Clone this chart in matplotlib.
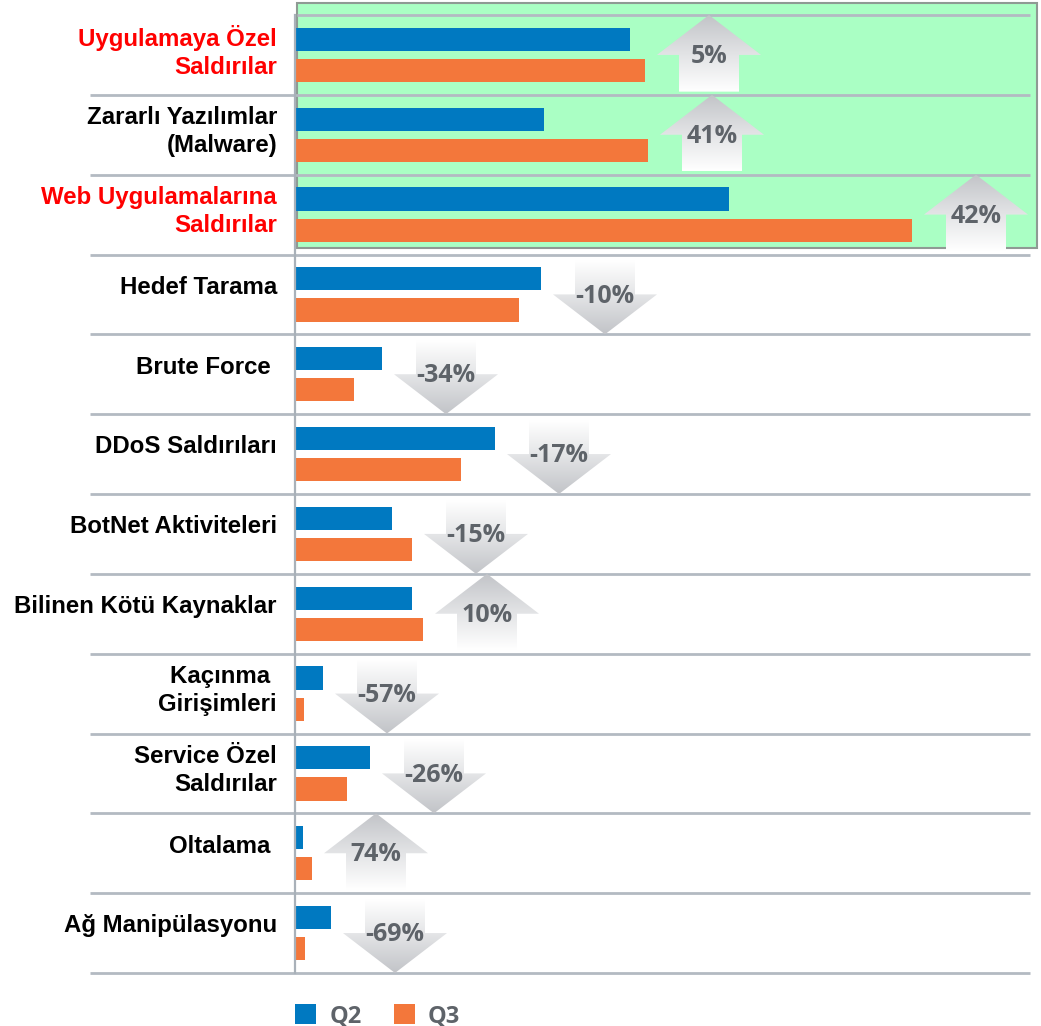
import numpy as np
import matplotlib
matplotlib.use("Agg")
import matplotlib.pyplot as plt
from matplotlib.patches import Polygon, Rectangle, Patch
from matplotlib.colors import LinearSegmentedColormap

# ---------------- data ----------------
categories = [
    "Uygulamaya Özel\nSaldırılar",
    "Zararlı Yazılımlar\n(Malware)",
    "Web Uygulamalarına\nSaldırılar",
    "Hedef Tarama",
    "Brute Force ",
    "DDoS Saldırıları",
    "BotNet Aktiviteleri",
    "Bilinen Kötü Kaynaklar",
    "Kaçınma \nGirişimleri",
    "Service Özel\nSaldırılar",
    "Oltalama ",
    "Ağ Manipülasyonu",
]
highlight = [True, False, True, False, False, False, False, False, False, False, False, False]
q2 = [335, 249, 434, 246, 87, 200, 97, 117, 28, 75, 8, 36]
q3 = [350, 353, 617, 224, 59, 166, 117, 128, 9, 52, 17, 10]
change_pct = [5, 41, 42, -10, -34, -17, -15, 10, -57, -26, 74, -69]
series_labels = ["Q2", "Q3"]

# ---------------- style ----------------
BLUE = "#0079c1"
ORANGE = "#f3773b"
GREEN = "#aaffc4"
LINE = "#b3bac2"
TXT_GRAY = "#5e6369"

W, H = 1041, 1026
fig = plt.figure(figsize=(W / 100, H / 100), dpi=100)
fig.patch.set_facecolor("white")

ax_left, ax_right = 295, 1030
ax_top, ax_bot = 15, 973
ax = fig.add_axes([ax_left / W, (H - ax_bot) / H, (ax_right - ax_left) / W, (ax_bot - ax_top) / H])
ax.set_facecolor("none")

n = len(categories)
y = np.arange(n)
xmax = ax_right - ax_left  # data units = pixels

# green highlight box for the top three rows
px2y = lambda p: (p - ax_top) / 80.0 - 0.5
ax.add_patch(Rectangle((2, px2y(3)), 740, px2y(248) - px2y(3), facecolor=GREEN,
                       edgecolor="#8f9a94", lw=1.5, zorder=0, clip_on=False))

# separator lines
for k in range(n + 1):
    x0 = 2 if k == 0 else -205
    ax.plot([x0, xmax], [k - 0.5, k - 0.5], color=LINE, lw=2.0, zorder=1,
            clip_on=False, solid_capstyle="butt")

# bars
bh = 0.29
off = 0.195
ax.barh(y - off, q2, height=bh, color=BLUE, zorder=3, label=series_labels[0])
ax.barh(y + off, q3, height=bh, color=ORANGE, zorder=3, label=series_labels[1])

# gradient arrows
cmap = LinearSegmentedColormap.from_list("g", ["#c2c4c8", "#e2e3e5", "#ffffff"])
hw, sw = 52, 30
for i, (a, b, pct) in enumerate(zip(q2, q3, change_pct)):
    cx = max(a, b) + 64
    up = pct > 0
    if up:
        apex, base, tail = i - 0.5, i, i + 0.46
    else:
        apex, base, tail = i + 0.5, i, i - 0.42
    poly = [(cx - sw, tail), (cx - sw, base), (cx - hw, base), (cx, apex),
            (cx + hw, base), (cx + sw, base), (cx + sw, tail)]
    patch = Polygon(poly, closed=True, facecolor="none", edgecolor="none", zorder=2)
    ax.add_patch(patch)
    grad = np.linspace(0, 1, 200).reshape(-1, 1)
    im = ax.imshow(grad, extent=[cx - hw, cx + hw, tail, apex], origin="upper",
                   cmap=cmap, aspect="auto", zorder=2, interpolation="bilinear")
    im.set_clip_path(patch)
    ax.text(cx, i + 0.02, f"{pct}%", ha="center", va="center", fontsize=18,
            fontfamily="Open Sans", fontweight="bold", color=TXT_GRAY, zorder=4)

# category labels
for i, (lab, hl) in enumerate(zip(categories, highlight)):
    dy = -0.04 if "\n" in lab else -0.09
    ax.text(-18, i + dy, lab, ha="right", va="center", fontsize=17.3,
            fontfamily="Liberation Sans", fontweight="bold",
            color="#ff0000" if hl else "black", linespacing=1.3, zorder=5)

ax.set_xlim(0, xmax)
ax.set_ylim(n - 0.5, -0.5)
ax.set_xticks([])
ax.set_yticks([])
for s in ["top", "right", "bottom"]:
    ax.spines[s].set_visible(False)
ax.spines["left"].set_color("#a9b1b9")
ax.spines["left"].set_linewidth(1.6)
ax.spines["left"].set_zorder(6)

# legend
handles = [Patch(facecolor=BLUE, edgecolor="none"), Patch(facecolor=ORANGE, edgecolor="none")]
leg = fig.legend(handles, series_labels, loc="lower left",
                 bbox_to_anchor=(295 / W, -2 / H), ncol=2, frameon=False,
                 prop={"family": "Open Sans", "weight": "bold", "size": 17},
                 handlelength=0.9, handleheight=0.9, handletextpad=0.55,
                 columnspacing=1.37, borderpad=0, borderaxespad=0)
for t in leg.get_texts():
    t.set_color(TXT_GRAY)

fig.savefig("out.png", dpi=100, facecolor="white")
